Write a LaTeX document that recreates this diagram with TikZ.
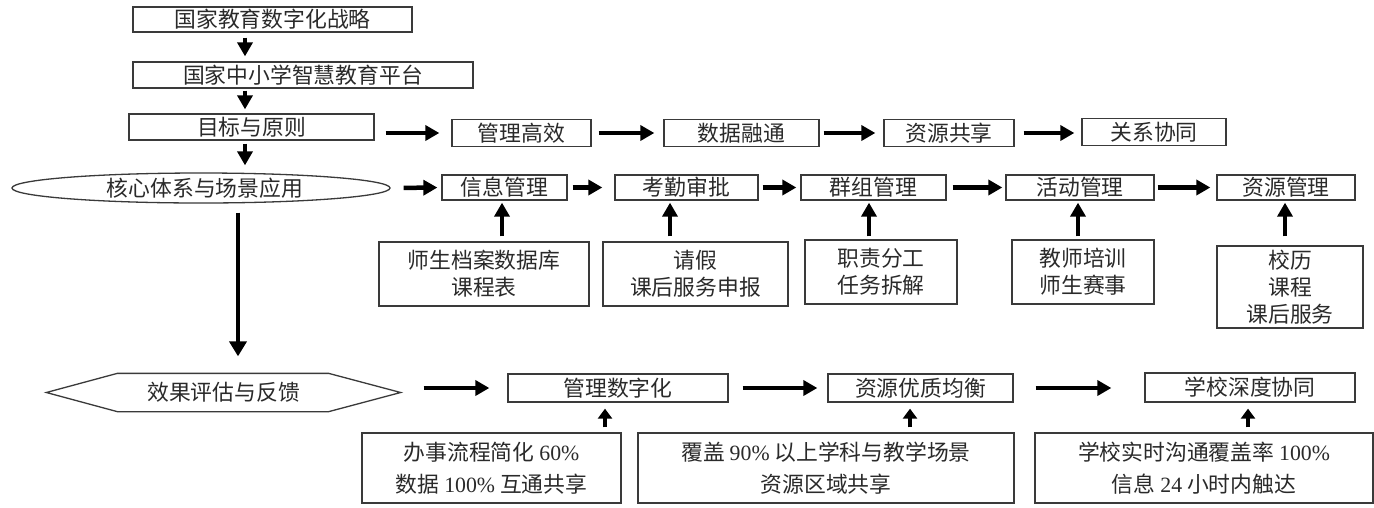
\documentclass[tikz,border=0pt]{standalone}
\usepackage{fontspec}
\setmainfont{Liberation Serif}
\newfontfamily\cjk{Noto Sans CJK SC}
\newfontfamily\lat{Liberation Serif}
\usetikzlibrary{arrows.meta,shapes.geometric}
\definecolor{bdr}{HTML}{3A3A3A}
\definecolor{txt}{HTML}{2A2A2A}
\begin{document}
\begin{tikzpicture}[x=1pt,y=-1pt,
  box/.style={draw=bdr, line width=1.3pt, inner sep=0pt, text=txt,
    font=\cjk\fontsize{21.8}{27}\selectfont, align=center},
  tbox/.style={box, font=\cjk\fontsize{21.8}{32}\selectfont},
  arr/.style={draw=black, line width=4.5pt, -{Triangle[length=14pt,width=15pt]}},
  sarr/.style={draw=black, line width=4.5pt, -{Triangle[length=10pt,width=14pt]}},
]
\useasboundingbox (0,0) rectangle (1374,507);
\fill[white] (0,0) rectangle (1374,507);

% left column
\node[box, minimum width=279pt, minimum height=25pt] (A) at (272.5,19.5) {国家教育数字化战略};
\node[box, minimum width=340pt, minimum height=26pt] (B) at (303,75) {国家中小学智慧教育平台};
\node[box, minimum width=245pt, minimum height=26pt] (C) at (251.5,127) {目标与原则};
\node[box, ellipse, minimum width=378pt, minimum height=30pt] (E) at (201,188) {\hspace*{8pt}核心体系与场景应用};

% goals row
\node[box, minimum width=139pt, minimum height=27pt] (G1) at (521.5,133) {管理高效};
\node[box, minimum width=155pt, minimum height=27pt] (G2) at (741.5,133) {数据融通};
\node[box, minimum width=130pt, minimum height=27pt] (G3) at (949,133) {资源共享};
\node[box, minimum width=144pt, minimum height=27pt] (G4) at (1154,132) {关系协同};

% modules row
\node[box, minimum width=125pt, minimum height=25pt] (M1) at (504.5,187.5) {信息管理};
\node[box, minimum width=143pt, minimum height=25pt] (M2) at (686.5,187.5) {考勤审批};
\node[box, minimum width=145pt, minimum height=25pt] (M3) at (873.5,187.5) {群组管理};
\node[box, minimum width=148pt, minimum height=25pt] (M4) at (1080,187.5) {活动管理};
\node[box, minimum width=138pt, minimum height=25pt] (M5) at (1286,187.5) {资源管理};

% sub boxes
\node[box, minimum width=210pt, minimum height=64pt] (S1) at (484,274) {师生档案数据库\\课程表};
\node[box, minimum width=185pt, minimum height=64pt] (S2) at (695.5,274) {请假\\课后服务申报};
\node[box, minimum width=152pt, minimum height=64pt] (S3) at (881,272) {职责分工\\任务拆解};
\node[box, minimum width=142pt, minimum height=64pt] (S4) at (1083,272) {教师培训\\师生赛事};
\node[box, minimum width=146pt, minimum height=82pt] (S5) at (1290,287) {校历\\课程\\课后服务};

% evaluation
\node[box, draw=none, minimum width=353pt, minimum height=37pt] (H) at (223.5,392.5) {效果评估与反馈};
\draw[draw=bdr, line width=1.3pt] (H.west) -- ([xshift=71pt]H.north west) -- ([xshift=-72pt]H.north east)
  -- (H.east) -- ([xshift=-72pt]H.south east) -- ([xshift=71pt]H.south west) -- cycle;

\node[box, minimum width=220pt, minimum height=28pt] (R1) at (618,388) {管理数字化};
\node[box, minimum width=185pt, minimum height=28pt] (R2) at (920.5,388) {资源优质均衡};
\node[box, minimum width=210pt, minimum height=29pt] (R3) at (1250,387.5) {学校深度协同};

\node[tbox, minimum width=259pt, minimum height=70pt] (T1) at (491.5,468) {办事流程简化 {\lat 60\%}\\数据 {\lat 100\%} 互通共享};
\node[tbox, minimum width=376pt, minimum height=70pt] (T2) at (826,468) {覆盖 {\lat 90\%} 以上学科与教学场景\\资源区域共享};
\node[tbox, minimum width=338pt, minimum height=70pt] (T3) at (1204,468) {学校实时沟通覆盖率 {\lat 100\%}\\信息 {\lat 24} 小时内触达};

% arrow columns
\coordinate (cx) at (245,0);
\coordinate (lx) at (238,0);
\coordinate (u1) at (502,0);
\coordinate (u2) at (670,0);
\coordinate (u3) at (869,0);
\coordinate (u4) at (1078,0);
\coordinate (u5) at (1285,0);
\coordinate (v1) at (605,0);
\coordinate (v2) at (910,0);
\coordinate (v3) at (1248,0);

% vertical main flow
\draw[arr, shorten <=5pt, shorten >=5pt] (A.south -| cx) -- (B.north -| cx);
\draw[arr, shorten <=2pt, shorten >=4pt] (B.south -| cx) -- (C.north -| cx);
\draw[arr, shorten <=3pt, shorten >=7pt] (C.south -| cx) -- (E.north -| cx);
\draw[arr, -{Triangle[length=15pt,width=17pt]}, shorten <=9pt, shorten >=17pt] (E.south -| lx) -- (H.north -| lx);

% goals row arrows
\draw[arr, shorten <=11pt, shorten >=12pt] (C.east |- G1.west) -- (G1.west);
\draw[arr, shorten <=7pt, shorten >=9pt] (G1.east) -- (G2.west);
\draw[arr, shorten <=4pt, shorten >=8pt] (G2.east) -- (G3.west);
\draw[arr, shorten <=9pt, shorten >=7pt] (G3.east) -- (G4.west |- G3.east);

% modules row arrows
\draw[arr, shorten <=13pt, shorten >=4pt] (E.east) -- (M1.west);
\draw[arr, shorten <=5pt, shorten >=12pt] (M1.east) -- (M2.west);
\draw[arr, shorten <=4pt, shorten >=4pt] (M2.east) -- (M3.west);
\draw[arr, shorten <=6pt, shorten >=3pt] (M3.east) -- (M4.west);
\draw[arr, shorten <=3pt, shorten >=6pt] (M4.east) -- (M5.west);

% sub to module arrows
\draw[arr, shorten <=5pt, shorten >=2pt] (S1.north -| u1) -- (M1.south -| u1);
\draw[arr, shorten <=5pt, shorten >=2pt] (S2.north -| u2) -- (M2.south -| u2);
\draw[arr, shorten <=3pt, shorten >=2pt] (S3.north -| u3) -- (M3.south -| u3);
\draw[arr, shorten <=3pt, shorten >=2pt] (S4.north -| u4) -- (M4.south -| u4);
\draw[arr, shorten <=9pt, shorten >=2pt] (S5.north -| u5) -- (M5.south -| u5);

% results row arrows
\draw[arr, shorten <=23pt, shorten >=18pt] (H.east |- R1.west) -- (R1.west);
\draw[arr, shorten <=14pt, shorten >=10pt] (R1.east) -- (R2.west);
\draw[arr, shorten <=22pt, shorten >=33pt] (R2.east) -- (R3.west |- R2.east);

% indicator arrows
\draw[sarr, shorten <=5pt, shorten >=6pt] (T1.north -| v1) -- (R1.south -| v1);
\draw[sarr, shorten <=5pt, shorten >=6pt] (T2.north -| v2) -- (R2.south -| v2);
\draw[sarr, shorten <=5pt, shorten >=6pt] (T3.north -| v3) -- (R3.south -| v3);
\end{tikzpicture}
\end{document}
